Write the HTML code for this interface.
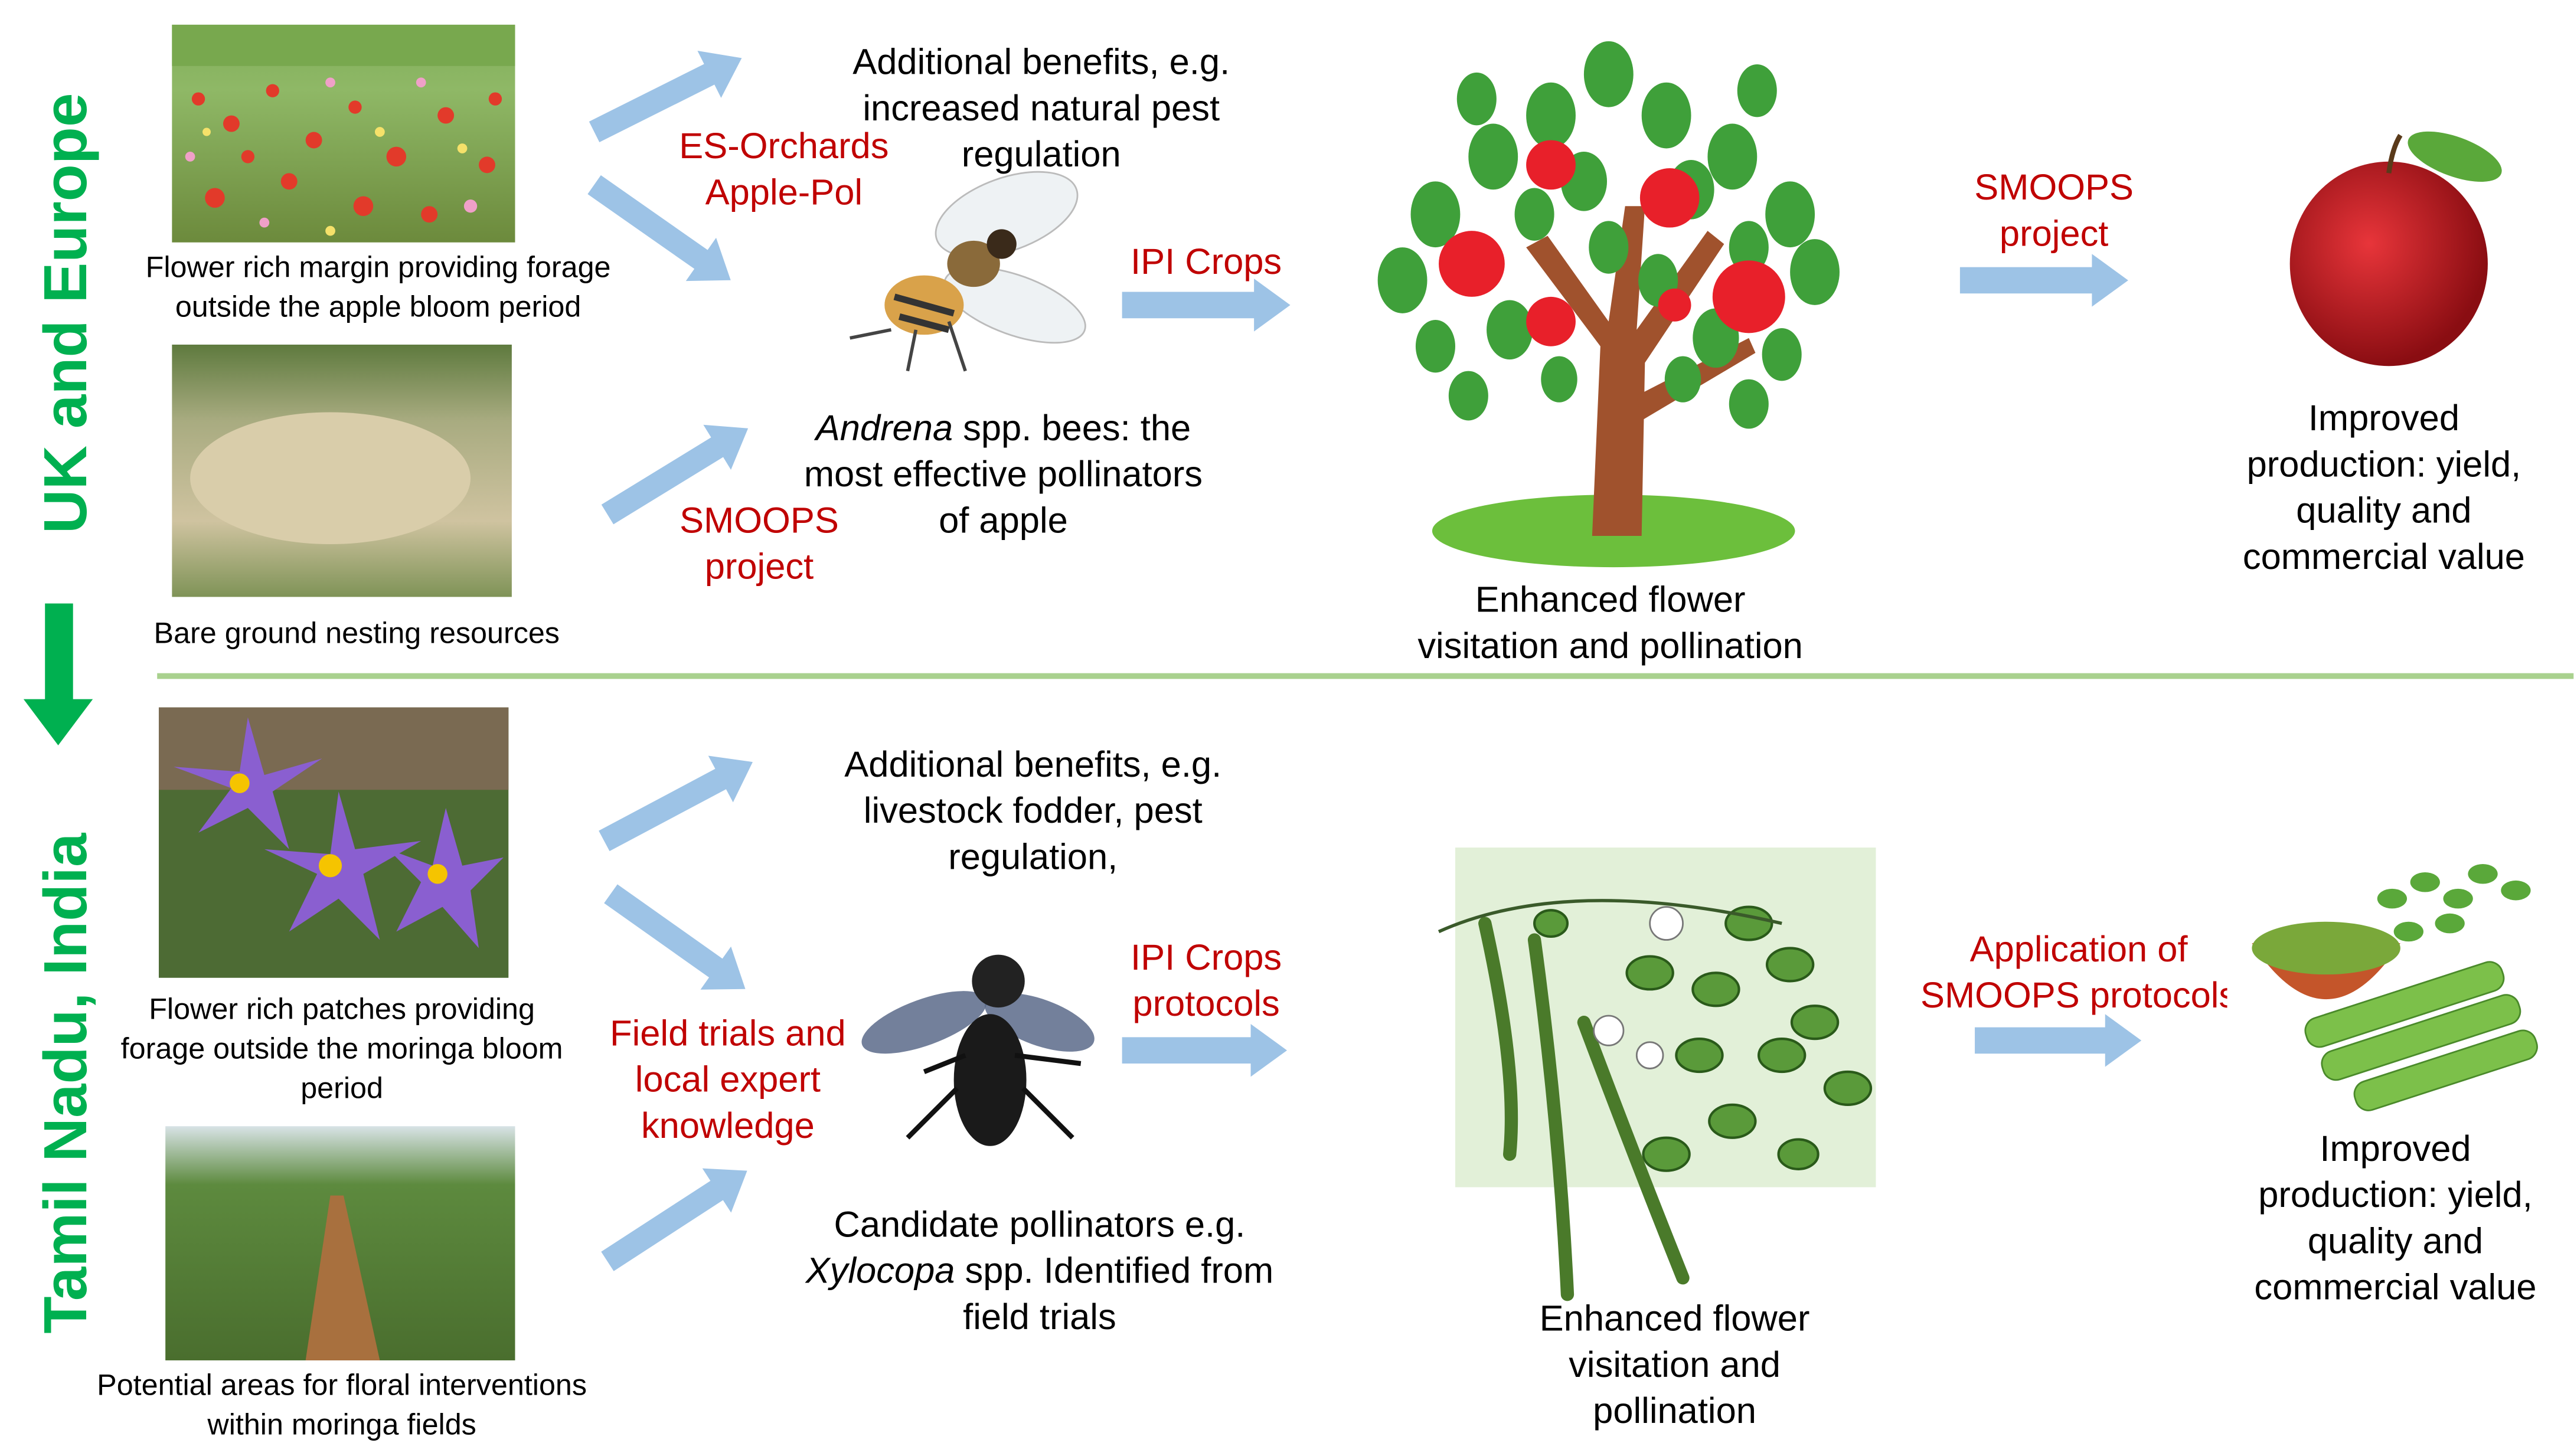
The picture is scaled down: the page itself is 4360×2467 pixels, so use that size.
<!DOCTYPE html>
<html><head><meta charset="utf-8"><style>
html,body{margin:0;padding:0;background:#fff;}
svg{display:block;}
text{font-family:"Liberation Sans",Arial,sans-serif;}
</style></head><body>
<svg width="4360" height="2467" viewBox="0 0 1560 883" xmlns="http://www.w3.org/2000/svg">
<defs>
<linearGradient id="field" x1="0" y1="0" x2="0" y2="1"><stop offset="0" stop-color="#7fae5a"/><stop offset="0.3" stop-color="#8fb866"/><stop offset="1" stop-color="#6c8a3c"/></linearGradient>
<linearGradient id="bare" x1="0" y1="0" x2="0" y2="1"><stop offset="0" stop-color="#5e7a3e"/><stop offset="0.3" stop-color="#a8ab80"/><stop offset="0.7" stop-color="#cfc3a0"/><stop offset="1" stop-color="#7f9357"/></linearGradient>
<linearGradient id="row" x1="0" y1="0" x2="0" y2="1"><stop offset="0" stop-color="#d8e3e6"/><stop offset="0.25" stop-color="#5d8a3e"/><stop offset="1" stop-color="#4a6e2e"/></linearGradient>
<radialGradient id="apl" cx="0.4" cy="0.4" r="0.6"><stop offset="0" stop-color="#e8353a"/><stop offset="1" stop-color="#8a0d12"/></radialGradient>
</defs>

<text transform="translate(52,190) rotate(-90)" text-anchor="middle" font-size="37" font-weight="bold" fill="#00b050">UK and Europe</text>
<text transform="translate(52,657) rotate(-90)" text-anchor="middle" font-size="37" font-weight="bold" fill="#00b050">Tamil Nadu, India</text>
<polygon points="27,366 44,366 44,424 56,424 35,452 14,424 27,424" fill="#00b050"/>
<line x1="95" y1="410" x2="1560" y2="410" stroke="#a9d18e" stroke-width="3.5"/>

<rect x="104" y="15" width="208" height="132" fill="url(#field)"/>
<rect x="104" y="15" width="208" height="25" fill="#78a84e"/>
<g fill="#e23a2a">
<circle cx="120" cy="60" r="4"/><circle cx="140" cy="75" r="5"/><circle cx="165" cy="55" r="4"/><circle cx="190" cy="85" r="5"/><circle cx="215" cy="65" r="4"/><circle cx="240" cy="95" r="6"/><circle cx="270" cy="70" r="5"/><circle cx="295" cy="100" r="5"/><circle cx="130" cy="120" r="6"/><circle cx="175" cy="110" r="5"/><circle cx="220" cy="125" r="6"/><circle cx="260" cy="130" r="5"/><circle cx="300" cy="60" r="4"/><circle cx="150" cy="95" r="4"/>
</g>
<g fill="#f0a0c8"><circle cx="200" cy="50" r="3"/><circle cx="255" cy="50" r="3"/><circle cx="115" cy="95" r="3"/><circle cx="285" cy="125" r="4"/><circle cx="160" cy="135" r="3"/></g>
<g fill="#f5e16a"><circle cx="230" cy="80" r="3"/><circle cx="125" cy="80" r="2.5"/><circle cx="200" cy="140" r="3"/><circle cx="280" cy="90" r="3"/></g>
<text font-size="18" text-anchor="middle" fill="#000"><tspan x="229" y="168">Flower rich margin providing forage</tspan><tspan x="229" y="192">outside the apple bloom period</tspan></text>

<rect x="104" y="209" width="206" height="153" fill="url(#bare)"/>
<ellipse cx="200" cy="290" rx="85" ry="40" fill="#d9cdaa"/>
<text x="216" y="390" font-size="18" text-anchor="middle">Bare ground nesting resources</text>

<g fill="#9dc3e6">
<polygon transform="translate(360,80) rotate(-26.6)" points="0,-7 78,-7 78,-16 100,0 78,16 78,7 0,7"/>
<polygon transform="translate(360,112) rotate(35)" points="0,-7 79,-7 79,-16 101,0 79,16 79,7 0,7"/>
<polygon transform="translate(368,312) rotate(-31.5)" points="0,-7 78,-7 78,-16 100,0 78,16 78,7 0,7"/>
<polygon transform="translate(680,185)" points="0,-8 80,-8 80,-16 102,0 80,16 80,8 0,8"/>
<polygon transform="translate(1188,170)" points="0,-8 80,-8 80,-16 102,0 80,16 80,8 0,8"/>
<polygon transform="translate(366,510) rotate(-28)" points="0,-7 80,-7 80,-16 102,0 80,16 80,7 0,7"/>
<polygon transform="translate(370,542) rotate(35.3)" points="0,-7 78,-7 78,-16 100,0 78,16 78,7 0,7"/>
<polygon transform="translate(368,765) rotate(-33)" points="0,-7 79,-7 79,-16 101,0 79,16 79,7 0,7"/>
<polygon transform="translate(680,637)" points="0,-8 78,-8 78,-16 100,0 78,16 78,8 0,8"/>
<polygon transform="translate(1197,631)" points="0,-8 79,-8 79,-16 101,0 79,16 79,8 0,8"/>
</g>

<text font-size="22" text-anchor="middle"><tspan x="631" y="45">Additional benefits, e.g.</tspan><tspan x="631" y="73">increased natural pest</tspan><tspan x="631" y="101">regulation</tspan></text>
<text font-size="22" text-anchor="middle" fill="#c00000"><tspan x="475" y="96">ES-Orchards</tspan><tspan x="475" y="124">Apple-Pol</tspan></text>
<text x="731" y="166" font-size="22" text-anchor="middle" fill="#c00000">IPI Crops</text>
<text font-size="22" text-anchor="middle"><tspan x="608" y="267"><tspan font-style="italic">Andrena</tspan> spp. bees: the</tspan><tspan x="608" y="295">most effective pollinators</tspan><tspan x="608" y="323">of apple</tspan></text>
<text font-size="22" text-anchor="middle" fill="#c00000"><tspan x="460" y="323">SMOOPS</tspan><tspan x="460" y="351">project</tspan></text>

<g>
<ellipse cx="610" cy="130" rx="45" ry="22" fill="#eef2f4" stroke="#bbb" transform="rotate(-20 610 130)"/>
<ellipse cx="615" cy="185" rx="45" ry="18" fill="#eef2f4" stroke="#bbb" transform="rotate(20 615 185)"/>
<ellipse cx="560" cy="185" rx="24" ry="18" fill="#d9a24a"/>
<path d="M542,180 L578,190 M545,192 L575,200" stroke="#333" stroke-width="4"/>
<ellipse cx="590" cy="160" rx="16" ry="14" fill="#8a6a3a"/>
<circle cx="607" cy="148" r="9" fill="#3a2a1a"/>
<path d="M540,200 L515,205 M555,200 L550,225 M575,195 L585,225" stroke="#444" stroke-width="2"/>
</g>

<g>
<ellipse cx="978" cy="322" rx="110" ry="22" fill="#6cbf3c"/>
<path d="M965,325 L970,210 L925,150 L938,143 L975,195 L985,125 L997,125 L992,200 L1035,140 L1045,148 L997,220 L995,325 Z" fill="#a0522d"/>
<path d="M992,240 L1060,205 L1064,214 L995,255 Z" fill="#a0522d"/>
<g fill="#3fa03a">
<ellipse cx="975" cy="45" rx="15" ry="20"/><ellipse cx="940" cy="70" rx="15" ry="20"/><ellipse cx="1010" cy="70" rx="15" ry="20"/><ellipse cx="905" cy="95" rx="15" ry="20"/><ellipse cx="1050" cy="95" rx="15" ry="20"/><ellipse cx="870" cy="130" rx="15" ry="20"/><ellipse cx="1085" cy="130" rx="15" ry="20"/><ellipse cx="960" cy="110" rx="14" ry="18"/><ellipse cx="1025" cy="115" rx="14" ry="18"/><ellipse cx="850" cy="170" rx="15" ry="20"/><ellipse cx="1100" cy="165" rx="15" ry="20"/><ellipse cx="915" cy="200" rx="14" ry="18"/><ellipse cx="1040" cy="205" rx="14" ry="18"/><ellipse cx="895" cy="60" rx="12" ry="16"/><ellipse cx="1065" cy="55" rx="12" ry="16"/><ellipse cx="975" cy="150" rx="12" ry="16"/><ellipse cx="870" cy="210" rx="12" ry="16"/><ellipse cx="1080" cy="215" rx="12" ry="16"/><ellipse cx="1005" cy="170" rx="12" ry="16"/><ellipse cx="930" cy="130" rx="12" ry="16"/><ellipse cx="1060" cy="150" rx="12" ry="16"/><ellipse cx="890" cy="240" rx="12" ry="15"/><ellipse cx="1060" cy="245" rx="12" ry="15"/><ellipse cx="945" cy="230" rx="11" ry="14"/><ellipse cx="1020" cy="230" rx="11" ry="14"/>
</g>
<g fill="#e8202a"><circle cx="892" cy="160" r="20"/><circle cx="940" cy="100" r="15"/><circle cx="1012" cy="120" r="18"/><circle cx="1060" cy="180" r="22"/><circle cx="940" cy="195" r="15"/><circle cx="1015" cy="185" r="10"/></g>
</g>
<text font-size="22" text-anchor="middle"><tspan x="976" y="371">Enhanced flower</tspan><tspan x="976" y="399">visitation and pollination</tspan></text>
<text font-size="22" text-anchor="middle" fill="#c00000"><tspan x="1245" y="121">SMOOPS</tspan><tspan x="1245" y="149">project</tspan></text>

<ellipse cx="1448" cy="160" rx="60" ry="62" fill="url(#apl)"/>
<path d="M1448,105 Q1450,90 1455,82" stroke="#5a3a1a" stroke-width="3" fill="none"/>
<ellipse cx="1488" cy="95" rx="30" ry="12" fill="#5aa83a" transform="rotate(20 1488 95)"/>
<text font-size="22" text-anchor="middle"><tspan x="1445" y="261">Improved</tspan><tspan x="1445" y="289">production: yield,</tspan><tspan x="1445" y="317">quality and</tspan><tspan x="1445" y="345">commercial value</tspan></text>

<rect x="96" y="429" width="212" height="164" fill="#4d6b34"/>
<rect x="96" y="429" width="212" height="50" fill="#7a6a52"/>
<g fill="#8a5fd0">
<polygon points="150,435 160,470 195,460 165,480 175,515 150,490 120,505 140,478 105,465 145,468"/>
<polygon points="205,480 215,515 255,510 220,530 230,570 205,545 175,565 192,530 160,515 200,518"/>
<polygon points="270,490 280,525 305,520 285,540 290,575 268,550 240,565 255,535 235,515 262,525"/>
</g>
<g fill="#f5c400"><circle cx="145" cy="475" r="6"/><circle cx="200" cy="525" r="7"/><circle cx="265" cy="530" r="6"/></g>
<text font-size="18" text-anchor="middle"><tspan x="207" y="618">Flower rich patches providing</tspan><tspan x="207" y="642">forage outside the moringa bloom</tspan><tspan x="207" y="666">period</tspan></text>

<rect x="100" y="683" width="212" height="142" fill="url(#row)"/>
<polygon points="185,825 230,825 208,725 200,725" fill="#a8703e"/>
<text font-size="18" text-anchor="middle"><tspan x="207" y="846">Potential areas for floral interventions</tspan><tspan x="207" y="870">within moringa fields</tspan></text>

<text font-size="22" text-anchor="middle"><tspan x="626" y="471">Additional benefits, e.g.</tspan><tspan x="626" y="499">livestock fodder, pest</tspan><tspan x="626" y="527">regulation,</tspan></text>
<text font-size="22" text-anchor="middle" fill="#c00000"><tspan x="441" y="634">Field trials and</tspan><tspan x="441" y="662">local expert</tspan><tspan x="441" y="690">knowledge</tspan></text>
<text font-size="22" text-anchor="middle" fill="#c00000"><tspan x="731" y="588">IPI Crops</tspan><tspan x="731" y="616">protocols</tspan></text>
<text font-size="22" text-anchor="middle"><tspan x="630" y="750">Candidate pollinators e.g.</tspan><tspan x="630" y="778"><tspan font-style="italic">Xylocopa</tspan> spp. Identified from</tspan><tspan x="630" y="806">field trials</tspan></text>

<g>
<ellipse cx="560" cy="620" rx="40" ry="14" fill="#5a6a8a" opacity="0.85" transform="rotate(-20 560 620)"/>
<ellipse cx="630" cy="620" rx="35" ry="14" fill="#5a6a8a" opacity="0.85" transform="rotate(20 630 620)"/>
<ellipse cx="600" cy="655" rx="22" ry="40" fill="#1a1a1a"/>
<circle cx="605" cy="595" r="16" fill="#222"/>
<path d="M580,660 L550,690 M620,660 L650,690 M585,640 L560,650 M615,640 L655,645" stroke="#111" stroke-width="3"/>
</g>

<rect x="882" y="514" width="255" height="206" fill="#e2f0d8"/>
<g fill="#5a9a3a" stroke="#2a5a1a" stroke-width="1.5">
<ellipse cx="1060" cy="560" rx="14" ry="10"/><ellipse cx="1085" cy="585" rx="14" ry="10"/><ellipse cx="1100" cy="620" rx="14" ry="10"/><ellipse cx="1120" cy="660" rx="14" ry="10"/><ellipse cx="1080" cy="640" rx="14" ry="10"/><ellipse cx="1050" cy="680" rx="14" ry="10"/><ellipse cx="1030" cy="640" rx="14" ry="10"/><ellipse cx="1040" cy="600" rx="14" ry="10"/><ellipse cx="1000" cy="590" rx="14" ry="10"/><ellipse cx="1010" cy="700" rx="14" ry="10"/><ellipse cx="1090" cy="700" rx="12" ry="9"/><ellipse cx="940" cy="560" rx="10" ry="8"/>
</g>
<g fill="none" stroke="#4a7a2a" stroke-width="8" stroke-linecap="round">
<path d="M930,570 Q945,680 950,785"/><path d="M960,620 Q990,700 1020,775"/><path d="M900,560 Q920,650 915,700"/>
</g>
<path d="M872,565 Q950,530 1080,560" stroke="#3a5a2a" stroke-width="2" fill="none"/>
<g fill="#fff" stroke="#777"><circle cx="1010" cy="560" r="10"/><circle cx="975" cy="625" r="9"/><circle cx="1000" cy="640" r="8"/></g>
<text font-size="22" text-anchor="middle"><tspan x="1015" y="807">Enhanced flower</tspan><tspan x="1015" y="835">visitation and</tspan><tspan x="1015" y="863">pollination</tspan></text>

<svg x="1140" y="555" width="210" height="70" overflow="hidden"><text font-size="22" text-anchor="middle" fill="#c00000"><tspan x="120" y="28">Application of</tspan><tspan x="120" y="56">SMOOPS protocols</tspan></text></svg>

<path d="M1365,572 Q1410,640 1455,572 Z" fill="#c4552a"/>
<ellipse cx="1410" cy="575" rx="45" ry="16" fill="#7aa83a"/>
<g fill="#7cc04a" stroke="#4a8a2a">
<rect x="1395" y="600" width="125" height="18" rx="8" transform="rotate(-18 1458 609)"/>
<rect x="1405" y="620" width="125" height="18" rx="8" transform="rotate(-18 1468 629)"/>
<rect x="1425" y="640" width="115" height="18" rx="8" transform="rotate(-18 1483 649)"/>
</g>
<g fill="#5aa83a"><ellipse cx="1450" cy="545" rx="9" ry="6"/><ellipse cx="1470" cy="535" rx="9" ry="6"/><ellipse cx="1490" cy="545" rx="9" ry="6"/><ellipse cx="1505" cy="530" rx="9" ry="6"/><ellipse cx="1525" cy="540" rx="9" ry="6"/><ellipse cx="1460" cy="565" rx="9" ry="6"/><ellipse cx="1485" cy="560" rx="9" ry="6"/></g>
<text font-size="22" text-anchor="middle"><tspan x="1452" y="704">Improved</tspan><tspan x="1452" y="732">production: yield,</tspan><tspan x="1452" y="760">quality and</tspan><tspan x="1452" y="788">commercial value</tspan></text>
</svg>
</body></html>
